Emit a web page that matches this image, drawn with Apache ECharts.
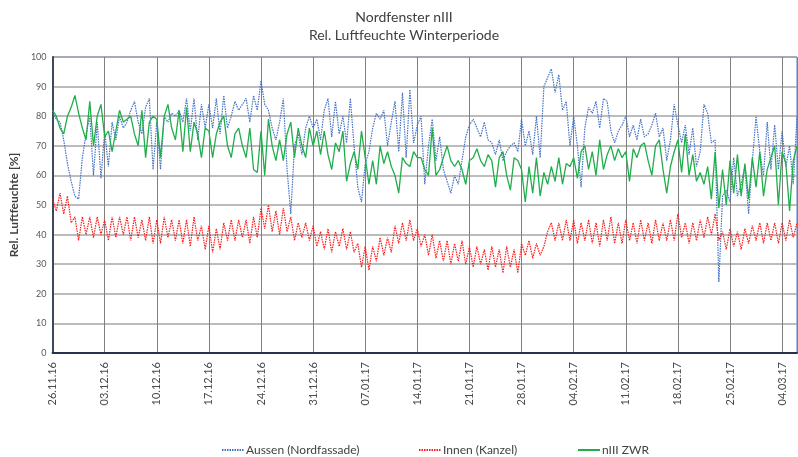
<!DOCTYPE html>
<html>
<head>
<meta charset="utf-8">
<script src="https://cdn.jsdelivr.net/npm/echarts@6/dist/echarts.min.js"></script>
<style>
  html, body { margin: 0; padding: 0; background: #fff; }
  #chart { width: 798px; height: 457px; }
</style>
</head>
<body>
<div id="chart"></div>
<script>
  var startDate = new Date(2016, 10, 26);
  var stepDays = 0.5;
  var seriesNames = ['Aussen (Nordfassade)', 'Innen (Kanzel)', 'nIII ZWR'];

  var aussen = [
    81,79,78,72,64,58,53,52,66,74, 80,60,78,59,75,63,78,72,80,76,
    78,82,85,78,74,83,86,62,78,62, 80,78,81,80,82,78,86,75,86,72,
    84,76,84,76,86,74,87,76,80,85, 82,84,86,78,87,82,92,84,82,76,
    72,78,86,62,47,70,74,67,76,80, 76,79,72,82,86,73,85,74,80,71,
    86,70,56,51,64,68,76,81,79,82, 70,78,85,68,88,66,89,71,77,80,
    57,70,79,65,73,62,58,54,60,57, 65,73,77,79,76,73,78,72,71,67,
    72,65,68,70,71,68,79,70,75,67, 80,66,90,93,96,88,94,82,85,70,
    80,70,56,76,83,81,85,76,86,85, 75,71,75,77,80,73,77,72,79,73,
    74,77,81,73,76,65,72,84,77,71, 77,67,76,63,68,84,81,71,72,24,
    53,55,51,66,53,57,63,47,65,80, 68,60,78,62,77,62,75,63,70,57,
    80
  ];
  var innen = [
    52,48,54,47,53,44,46,38,46,40, 46,39,46,40,45,38,46,39,46,40,
    46,38,46,39,45,38,46,37,45,37, 46,39,45,38,45,37,45,36,46,38,
    43,35,43,34,42,35,44,38,45,38, 45,39,45,37,46,39,49,42,50,41,
    48,40,49,41,46,38,44,39,44,38, 43,36,41,35,42,34,41,36,42,35,
    41,34,37,29,36,28,36,31,39,33, 39,34,43,37,44,38,45,38,42,36,
    40,33,40,32,38,31,38,30,37,31, 38,30,36,29,36,30,35,28,36,29,
    35,27,36,29,35,27,37,33,38,32, 37,33,36,41,44,38,44,38,45,38,
    45,37,44,38,45,37,44,36,45,38, 46,37,44,37,45,38,44,37,45,38,
    44,37,45,38,44,38,45,38,47,39, 44,37,44,38,45,39,46,40,47,38,
    41,35,42,36,41,35,42,37,43,38, 44,37,44,38,44,37,44,38,45,39,
    44
  ];
  var zwr = [
    82,80,76,74,80,83,87,81,76,72, 85,70,80,84,73,75,68,75,82,78,
    79,80,74,70,82,66,78,80,79,66, 80,84,76,72,82,68,83,68,78,74,
    66,76,75,66,74,78,80,70,66,74, 76,70,66,76,62,61,75,60,79,70,
    65,72,65,74,78,66,76,70,66,76, 70,75,67,75,67,62,71,68,75,58,
    64,68,62,75,66,57,65,57,70,64, 68,63,60,54,66,64,63,68,66,66,
    62,60,76,60,62,66,70,65,63,65, 62,57,65,66,69,65,63,67,65,56,
    66,68,60,55,66,65,62,51,63,54, 66,53,61,57,63,58,66,57,64,63,
    66,59,68,70,62,68,60,72,62,67, 70,65,69,66,68,58,69,66,70,71,
    65,60,70,72,62,54,63,68,72,61, 74,60,67,58,61,57,63,52,68,49,
    62,50,65,54,67,53,64,52,66,56, 68,53,62,66,70,50,68,64,48,65,
    70
  ];
  var seriesColors = ['#4472c4', '#ff1a1a', '#1fae4a'];
  var legendLeft = [216, 413, 572];

  function toPairs(values) {
    return values.map(function (v, i) { return [i * stepDays, v]; });
  }

  function fmtDate(days) {
    var d = new Date(startDate.getTime() + Math.round(days) * 86400000);
    var dd = ('0' + d.getDate()).slice(-2);
    var mm = ('0' + (d.getMonth() + 1)).slice(-2);
    var yy = String(d.getFullYear()).slice(-2);
    return dd + '.' + mm + '.' + yy;
  }

  var myChart = echarts.init(document.getElementById('chart'));
  myChart.setOption({
    animation: false,
    textStyle: { fontFamily: 'Lato, sans-serif' },
    title: {
      text: 'Nordfenster nIII\nRel. Luftfeuchte Winterperiode',
      left: 399,
      textAlign: 'center',
      top: 3,
      textStyle: { fontSize: 14, fontWeight: 'normal', color: '#404040', lineHeight: 18 }
    },
    grid: {
      left: 48, right: 1, top: 57, bottom: 104,
      show: true, borderColor: '#4f7cc6', borderWidth: 1
    },
    // eine Legende pro Reihe, damit die Abstaende passen
    legend: seriesNames.map(function (n, k) {
      return {
        orient: 'horizontal',
        left: legendLeft[k], top: 439,
        itemWidth: 22, itemHeight: 8,
        itemStyle: { opacity: 0 },
        textStyle: { fontSize: 12, color: '#404040', padding: [0, 0, 0, -3] },
        data: [n]
      };
    }),
    xAxis: {
      type: 'value',
      min: 0,
      max: 100,
      interval: 7,
      axisLine: { show: true, lineStyle: { color: '#26324a', width: 2 } },
      axisTick: { show: false },
      axisLabel: {
        rotate: 90,
        fontSize: 11,
        color: '#4a4a4a',
        margin: 9,
        formatter: function (v) { return v % 7 === 0 ? fmtDate(v) : ''; }
      },
      splitLine: { show: true, lineStyle: { color: '#808080', width: 1 } }
    },
    yAxis: {
      type: 'value',
      min: 0,
      max: 100,
      interval: 10,
      name: 'Rel. Luftfeuchte [%]',
      nameLocation: 'middle',
      nameGap: 25,
      nameTextStyle: { fontSize: 12, fontWeight: 'bold', color: '#404040' },
      axisLine: { show: true, lineStyle: { color: '#3d4858', width: 2 } },
      axisTick: { show: false },
      axisLabel: { fontSize: 9, color: '#595959', margin: 6 },
      splitLine: { show: true, lineStyle: { color: '#a6a6a6', width: 1.5 } }
    },
    series: [
      {
        name: seriesNames[0],
        type: 'line',
        data: toPairs(aussen),
        showSymbol: false,
        symbol: 'none',
        lineStyle: { color: seriesColors[0], width: 1.2, type: [1.5, 1] },
        itemStyle: { color: seriesColors[0] }
      },
      {
        name: seriesNames[1],
        type: 'line',
        data: toPairs(innen),
        showSymbol: false,
        symbol: 'none',
        lineStyle: { color: seriesColors[1], width: 1.2, type: [1.5, 1] },
        itemStyle: { color: seriesColors[1] }
      },
      {
        name: seriesNames[2],
        type: 'line',
        data: toPairs(zwr),
        showSymbol: false,
        symbol: 'none',
        lineStyle: { color: seriesColors[2], width: 1.3 },
        itemStyle: { color: seriesColors[2] }
      }
    ]
  });
</script>
</body>
</html>
